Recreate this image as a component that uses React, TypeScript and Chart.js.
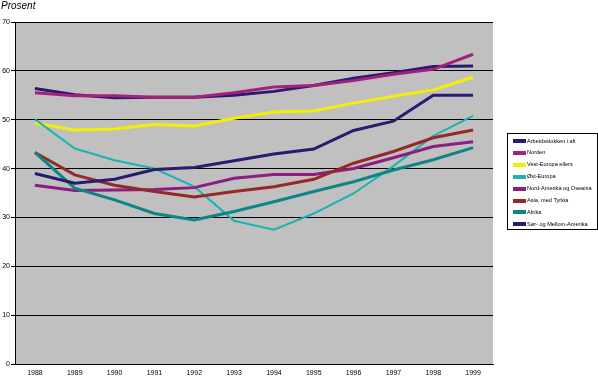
import React, { useEffect, useRef } from "react";
import { Chart, registerables } from "chart.js";

Chart.register(...registerables);

const years = ["1988", "1989", "1990", "1991", "1992", "1993", "1994", "1995", "1996", "1997", "1998", "1999"];

const arbeidsstokken = [56.4, 55.1, 54.5, 54.6, 54.6, 55.0, 55.8, 57.0, 58.5, 59.6, 60.9, 61.0];
const norden = [55.5, 54.9, 54.9, 54.6, 54.6, 55.5, 56.7, 57.0, 58.0, 59.3, 60.3, 63.4];
const vestEuropa = [49.3, 47.9, 48.1, 49.0, 48.7, 50.3, 51.6, 51.8, 53.4, 54.8, 56.1, 58.7];
const ostEuropa = [50.1, 44.1, 41.7, 40.0, 36.3, 29.3, 27.5, 30.8, 34.9, 40.5, 46.7, 50.8];
const nordAmerika = [36.6, 35.5, 35.6, 35.7, 36.1, 38.0, 38.8, 38.8, 40.0, 42.2, 44.5, 45.5];
const asia = [43.3, 38.7, 36.6, 35.3, 34.2, 35.3, 36.3, 37.8, 41.1, 43.5, 46.3, 47.9];
const afrika = [43.3, 36.0, 33.6, 30.8, 29.5, 31.2, 33.2, 35.3, 37.3, 39.7, 41.8, 44.3];
const sorAmerika = [39.0, 37.0, 37.8, 39.8, 40.2, 41.6, 43.0, 44.0, 47.8, 49.7, 55.0, 55.0];

const seriesLabels = [
  "Arbeidsstokken i alt",
  "Norden",
  "Vest-Europa ellers",
  "Øst-Europa",
  "Nord-Amerika og Oseania",
  "Asia, med Tyrkia",
  "Afrika",
  "Sør- og Mellom-Amerika",
];
const seriesColors = ["#2a1a70", "#a4207c", "#f2f000", "#19b3b3", "#8a1f7e", "#962828", "#0e8585", "#2a1a70"];
const seriesWidths = [3, 3, 3, 2, 3, 3, 3, 3];

const FONT = "'Liberation Sans', Arial, sans-serif";

const bgPlugin = {
  id: "plotBg",
  beforeDraw(chart: any) {
    const { ctx, chartArea } = chart;
    ctx.save();
    ctx.fillStyle = "#c0c0c0";
    ctx.fillRect(chartArea.left, chartArea.top, chartArea.right - chartArea.left, chartArea.bottom - chartArea.top);
    ctx.restore();
  },
};

const legendPlugin = {
  id: "customLegend",
  afterDraw(chart: any) {
    const { ctx } = chart;
    ctx.save();
    ctx.strokeStyle = "#000";
    ctx.lineWidth = 1;
    ctx.strokeRect(507.5, 133.5, 90, 96);
    ctx.font = "5.6px " + FONT;
    ctx.textBaseline = "middle";
    ctx.textAlign = "left";
    chart.data.datasets.forEach((ds: any, i: number) => {
      const y = 141 + i * 11.9;
      ctx.fillStyle = ds.borderColor;
      ctx.fillRect(513, Math.round(y) - 2, 13, 4);
      ctx.fillStyle = "#000";
      ctx.fillText(ds.label, 527, y);
    });
    ctx.restore();
  },
};

const titlePlugin = {
  id: "yTitle",
  afterDraw(chart: any) {
    const { ctx } = chart;
    ctx.save();
    ctx.font = "italic 10px " + FONT;
    ctx.fillStyle = "#000";
    ctx.textBaseline = "middle";
    ctx.textAlign = "left";
    ctx.fillText("Prosent", 1, 6);
    ctx.restore();
  },
};

export default function App() {
  const ref = useRef<HTMLCanvasElement | null>(null);
  useEffect(() => {
    document.body.style.margin = "0";
    const canvas = ref.current!;
    const datasets = [arbeidsstokken, norden, vestEuropa, ostEuropa, nordAmerika, asia, afrika, sorAmerika].map(
      (data, i) => ({
        label: seriesLabels[i],
        data,
        borderColor: seriesColors[i],
        backgroundColor: seriesColors[i],
        borderWidth: seriesWidths[i],
        pointRadius: 0,
        tension: 0,
        fill: false,
        order: 10 - i,
      })
    );
    const chart = new Chart(canvas, {
      type: "line",
      data: { labels: years, datasets },
      options: {
        animation: false,
        responsive: false,
        maintainAspectRatio: false,
        layout: { padding: { top: 22, right: 105, left: 0, bottom: 0 } },
        plugins: { legend: { display: false }, tooltip: { enabled: false } },
        scales: {
          x: {
            type: "category",
            offset: true,
            grid: { display: false, drawTicks: false },
            border: { display: true, color: "#000", width: 1 },
            ticks: { font: { size: 7, family: FONT }, color: "#000", padding: 5, maxRotation: 0, autoSkip: false },
            afterFit(scale: any) {
              scale.height = 15;
            },
          },
          y: {
            min: 0,
            max: 70,
            ticks: { stepSize: 10, font: { size: 7, family: FONT }, color: "#000", padding: 1 },
            grid: { color: "#000", lineWidth: 1, tickLength: 4, drawTicks: true },
            border: { display: true, color: "#000", width: 1 },
            afterFit(scale: any) {
              scale.width = 15;
            },
          },
        },
      },
      plugins: [bgPlugin, legendPlugin, titlePlugin],
    });
    return () => chart.destroy();
  }, []);
  return <canvas ref={ref} width={598} height={379} style={{ display: "block", width: 598, height: 379 }} />;
}
